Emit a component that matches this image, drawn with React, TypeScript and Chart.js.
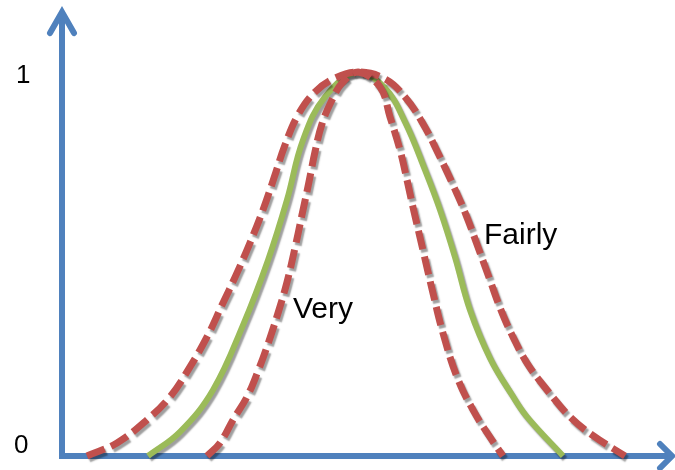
import React, { useEffect, useRef } from "react";
import { Chart, registerables } from "chart.js";

Chart.register(...registerables);

// x positions along the horizontal axis (arbitrary units), y = membership degree 0..1
const baseX = [86, 118, 151, 181, 206, 225, 241, 263, 296, 323, 343, 363, 378, 393, 408, 428, 450, 465, 501];
const baseY = [0, 0.063, 0.172, 0.341, 0.51, 0.667, 0.823, 0.935, 1.0, 0.958, 0.87, 0.745, 0.641, 0.518, 0.38, 0.255, 0.159, 0.102, 0];

const fairlyX = [25, 55, 85, 108, 128, 146, 160, 174, 188, 201, 212, 223, 236, 253, 273, 296, 323, 343, 360, 376, 391, 404, 416, 428, 439, 451, 465, 485, 508, 530, 563];
const fairlyY = [0, 0.034, 0.094, 0.154, 0.232, 0.315, 0.393, 0.471, 0.555, 0.641, 0.724, 0.81, 0.888, 0.948, 0.984, 1.0, 0.982, 0.935, 0.87, 0.789, 0.706, 0.628, 0.544, 0.458, 0.38, 0.31, 0.242, 0.172, 0.102, 0.055, 0];

const veryX = [145, 158, 171, 185, 196, 206, 216, 225, 233, 240, 247, 253, 260, 270, 280, 296, 318, 328, 338, 345, 351, 361, 371, 381, 395, 411, 428, 441];
const veryY = [0, 0.034, 0.094, 0.154, 0.221, 0.292, 0.372, 0.453, 0.542, 0.628, 0.714, 0.792, 0.865, 0.927, 0.971, 1.0, 0.961, 0.883, 0.797, 0.719, 0.648, 0.536, 0.424, 0.32, 0.206, 0.12, 0.049, 0];

const yTickLabels = ["0", "1"];
const curveLabels = [
  { text: "Very", x: 231, y: 0.36 },
  { text: "Fairly", x: 422, y: 0.553 },
];

const BLUE = "#4f81bd";
const RED = "#c0504d";
const GREEN = "#9bbb59";

const zip = (xs: number[], ys: number[]) => xs.map((x, i) => ({ x, y: ys[i] }));

export default function App() {
  const ref = useRef<HTMLCanvasElement>(null);

  useEffect(() => {
    if (!ref.current) return;

    const shadowPlugin = {
      id: "shadow",
      beforeDatasetDraw(chart: any) {
        const ctx = chart.ctx;
        ctx.save();
        ctx.shadowColor = "rgba(0,0,0,0.38)";
        ctx.shadowOffsetX = 2;
        ctx.shadowOffsetY = 3;
        ctx.shadowBlur = 1.5;
      },
      afterDatasetDraw(chart: any) {
        chart.ctx.restore();
      },
    };

    const axesPlugin = {
      id: "axes",
      beforeDatasetsDraw(chart: any) {
        const ctx = chart.ctx;
        const xs = chart.scales.x;
        const ys = chart.scales.y;
        const x0 = xs.getPixelForValue(0);
        const y0 = ys.getPixelForValue(0);
        const yTop = ys.getPixelForValue(1.156);
        const xEnd = xs.getPixelForValue(610);
        ctx.save();
        ctx.strokeStyle = BLUE;
        ctx.lineWidth = 6;
        ctx.lineJoin = "miter";
        ctx.lineCap = "butt";
        ctx.beginPath();
        ctx.moveTo(x0, yTop + 2);
        ctx.lineTo(x0, y0);
        ctx.lineTo(xEnd - 2, y0);
        ctx.stroke();
        ctx.lineCap = "round";
        ctx.lineJoin = "miter";
        ctx.beginPath();
        ctx.moveTo(x0 - 12, yTop + 21);
        ctx.lineTo(x0, yTop);
        ctx.lineTo(x0 + 12, yTop + 21);
        ctx.stroke();
        ctx.beginPath();
        ctx.moveTo(xEnd - 12, y0 - 12);
        ctx.lineTo(xEnd, y0);
        ctx.lineTo(xEnd - 12, y0 + 12);
        ctx.stroke();

        ctx.fillStyle = "#000";
        ctx.textBaseline = "alphabetic";
        ctx.textAlign = "left";
        ctx.font = '26px "Liberation Sans", Arial, sans-serif';
        ctx.fillText(yTickLabels[1], 16, ys.getPixelForValue(1) + 11);
        ctx.fillText(yTickLabels[0], 14, y0 - 3);
        ctx.font = '30px "Liberation Sans", Arial, sans-serif';
        for (const l of curveLabels) {
          ctx.fillText(l.text, xs.getPixelForValue(l.x), ys.getPixelForValue(l.y));
        }
        ctx.restore();
      },
    };

    const common = {
      pointRadius: 0,
      pointHoverRadius: 0,
      fill: false,
      clip: false as any,
      tension: 0.4,
      borderCapStyle: "butt" as const,
    };

    const chart = new Chart(ref.current, {
      type: "line",
      data: {
        datasets: [
          { ...common, label: "Very", data: zip(veryX, veryY), borderColor: RED, borderWidth: 7, borderDash: [19, 7], order: 1 },
          { ...common, label: "Fairly", data: zip(fairlyX, fairlyY), borderColor: RED, borderWidth: 7, borderDash: [19, 7], order: 1 },
          { ...common, label: "Base", data: zip(baseX, baseY), borderColor: GREEN, borderWidth: 6, order: 2 },
        ],
      },
      options: {
        animation: false,
        responsive: false,
        events: [],
        layout: { padding: { left: 62, right: 13, top: 72, bottom: 14 } },
        scales: {
          x: { type: "linear", min: 0, max: 600, display: false },
          y: { type: "linear", min: 0, max: 1, display: false },
        },
        plugins: { legend: { display: false }, tooltip: { enabled: false } },
      },
      plugins: [shadowPlugin, axesPlugin],
    });
    return () => chart.destroy();
  }, []);

  return (
    <div style={{ position: "fixed", left: 0, top: 0, width: 675, height: 470, background: "#fff" }}>
      <canvas ref={ref} width={675} height={470} style={{ display: "block" }} />
    </div>
  );
}
